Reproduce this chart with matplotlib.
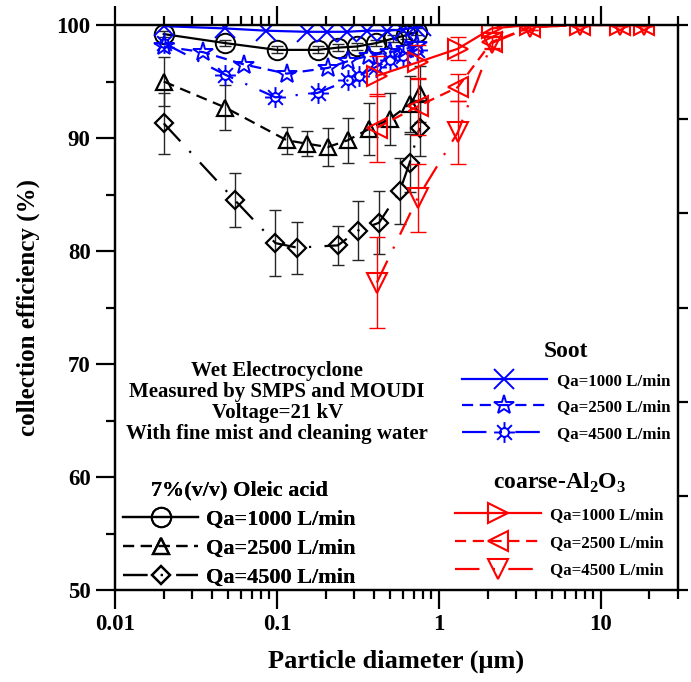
import numpy as np
import matplotlib
matplotlib.use("Agg")
import matplotlib.pyplot as plt
import matplotlib.path as mpath
from matplotlib.ticker import LogLocator, FixedLocator, NullFormatter, FuncFormatter

plt.rcParams['font.family'] = 'Liberation Serif'
plt.rcParams['font.weight'] = 'bold'
plt.rcParams['axes.labelweight'] = 'bold'
plt.rcParams['mathtext.fontset'] = 'custom'
plt.rcParams['mathtext.rm'] = 'Liberation Serif:bold'
plt.rcParams['mathtext.bf'] = 'Liberation Serif:bold'

# ---- data (particle diameter in um, efficiency in %) ----
# 7% (v/v) oleic acid
ole_x1 = [0.02, 0.048, 0.1, 0.179, 0.238, 0.312, 0.41, 0.52, 0.63, 0.73]
ole_y1 = [99.2, 98.4, 97.8, 97.8, 98.0, 98.1, 98.4, 98.8, 99.1, 99.4]
ole_e1 = [0.3, 0.3, 0.3, 0.3, 0.3, 0.3, 0.3, 0.3, 0.3, 0.3]

ole_x2 = [0.02, 0.048, 0.115, 0.153, 0.206, 0.274, 0.37, 0.50, 0.66, 0.76]
ole_y2 = [95.0, 92.7, 89.8, 89.5, 89.2, 89.8, 90.8, 91.7, 93.0, 93.9]
ole_e2 = [2.2, 2.0, 1.2, 1.1, 1.7, 2.0, 2.3, 2.3, 2.5, 2.5]

ole_x3 = [0.02, 0.055, 0.098, 0.133, 0.238, 0.315, 0.427, 0.574, 0.66, 0.76]
ole_y3 = [91.3, 84.5, 80.7, 80.3, 80.5, 81.8, 82.5, 85.3, 87.8, 90.9]
ole_e3 = [2.7, 2.4, 2.9, 2.3, 1.7, 2.6, 2.8, 2.9, 2.6, 2.5]

# soot
soot_x1 = [0.02, 0.048, 0.0855, 0.153, 0.203, 0.27, 0.36, 0.48, 0.60, 0.71, 0.78]
soot_y1 = [99.9, 99.7, 99.5, 99.4, 99.4, 99.4, 99.5, 99.5, 99.6, 99.8, 99.9]

soot_x2 = [0.02, 0.035, 0.063, 0.115, 0.206, 0.274, 0.37, 0.50, 0.63, 0.73]
soot_y2 = [98.1, 97.6, 96.5, 95.7, 96.2, 96.8, 97.3, 97.6, 97.9, 98.2]

soot_x3 = [0.02, 0.048, 0.098, 0.179, 0.274, 0.32, 0.41, 0.50, 0.60, 0.73]
soot_y3 = [98.4, 95.6, 93.6, 94.0, 95.1, 95.5, 96.3, 96.9, 97.3, 97.8]

# coarse Al2O3
al_x = [0.414, 0.74, 1.31, 2.12, 3.65, 7.4, 13.1, 18.6]
al_y1 = [95.5, 96.7, 97.9, 99.7, 100, 100, 100, 100]
al_e1 = [1.8, 1.5, 1.0, 0.3, 0.1, 0.1, 0.1, 0.1]
al_y2 = [90.9, 92.8, 94.5, 98.5, 99.8, 100, 100, 100]
al_e2 = [3.0, 2.5, 1.2, 0.5, 0.2, 0.1, 0.1, 0.1]
al_y3 = [77.2, 84.7, 90.5, 98.4, 99.8, 100, 100, 100]
al_e3 = [4.0, 3.0, 2.8, 0.5, 0.2, 0.1, 0.1, 0.1]

flow_labels = ["Qa=1000 L/min", "Qa=2500 L/min", "Qa=4500 L/min"]

# sun-like marker: small circle with eight rays
circ = mpath.Path.circle((0, 0), 0.42)
verts, codes = [], []
for a in np.deg2rad(np.arange(0, 360, 45)):
    verts += [(0.42 * np.cos(a), 0.42 * np.sin(a)), (np.cos(a), np.sin(a))]
    codes += [mpath.Path.MOVETO, mpath.Path.LINETO]
sun = mpath.Path.make_compound_path(circ, mpath.Path(verts, codes))

ls1 = '-'
ls2 = (0, (5, 3))
ls3 = (0, (11, 6, 1, 6))
lw = 1.6

fig = plt.figure(figsize=(6.91, 6.82), dpi=100)
ax = fig.add_axes([0.1664, 0.1349, 0.8148, 0.8284])

ekw = dict(fmt='none', ecolor='0.15', elinewidth=1.0, capsize=4.5, capthick=1.0)
ax.errorbar(ole_x1, ole_y1, yerr=ole_e1, **ekw)
ax.errorbar(ole_x2, ole_y2, yerr=ole_e2, **ekw)
ax.errorbar(ole_x3, ole_y3, yerr=ole_e3, **ekw)

o1, = ax.plot(ole_x1, ole_y1, color='k', ls=ls1, lw=lw, marker='o', ms=14,
              mfc='none', mew=1.4)
o2, = ax.plot(ole_x2, ole_y2, color='k', ls=ls2, lw=lw, marker='^', ms=11,
              mfc='none', mew=1.6)
o3, = ax.plot(ole_x3, ole_y3, color='k', ls=ls3, lw=lw, marker='D', ms=9,
              mfc='none', mew=1.6)

s1, = ax.plot(soot_x1, soot_y1, color='#0000ff', ls=ls1, lw=lw, marker='x', ms=15,
              mew=1.4)
s2, = ax.plot(soot_x2, soot_y2, color='#0000ff', ls=ls2, lw=lw, marker='*', ms=15,
              mfc='none', mew=1.4)
s3, = ax.plot(soot_x3, soot_y3, color='#0000ff', ls=ls3, lw=lw, marker=sun, ms=15,
              mfc='none', mew=1.4)

rkw = dict(fmt='none', ecolor='#ff0000', elinewidth=1.0, capsize=6, capthick=1.0)
ax.errorbar(al_x, al_y1, yerr=al_e1, **rkw)
ax.errorbar(al_x, al_y2, yerr=al_e2, **rkw)
ax.errorbar(al_x, al_y3, yerr=al_e3, **rkw)
a1, = ax.plot(al_x, al_y1, color='#ff0000', ls=ls1, lw=lw, marker='>', ms=14,
              mfc='none', mew=1.5)
a2, = ax.plot(al_x, al_y2, color='#ff0000', ls=ls2, lw=lw, marker='<', ms=14,
              mfc='none', mew=1.5)
a3, = ax.plot(al_x, al_y3, color='#ff0000', ls=ls3, lw=lw, marker='v', ms=14,
              mfc='none', mew=1.5)

ax.set_xscale('log')
ax.set_xlim(0.01, 30)
ax.set_ylim(50, 100)
ax.xaxis.set_major_locator(FixedLocator([0.01, 0.1, 1, 10]))
ax.xaxis.set_minor_locator(LogLocator(base=10, subs=np.arange(2, 10)))
ax.xaxis.set_minor_formatter(NullFormatter())
ax.xaxis.set_major_formatter(FuncFormatter(lambda v, p: '%g' % v))
ax.set_yticks([50, 60, 70, 80, 90, 100])
ax.set_yticks([55, 65, 75, 85, 95], minor=True)

for sp in ax.spines.values():
    sp.set_linewidth(1.6)
ax.tick_params(which='both', direction='out', width=1.6, top=True, labelsize=16.5)
ax.tick_params(which='major', length=13.5, pad=4)
ax.tick_params(which='minor', length=6.5)

ax2 = ax.twinx()
ax2.set_ylim(0, 6)
ax2.set_yticks(range(7))
ax2.set_yticklabels([])
ax2.tick_params(direction='out', length=7, width=1.6)
for sp in ax2.spines.values():
    sp.set_linewidth(1.6)

ax.set_xlabel('Particle diameter (\u03bcm)', fontsize=19, labelpad=10)
ax.set_ylabel('collection efficiency (%)', fontsize=18, labelpad=12)

ax.text(0.288, 0.332, "Wet Electrocyclone\nMeasured by SMPS and MOUDI\nVoltage=21 kV\n"
        "With fine mist and cleaning water", transform=ax.transAxes,
        ha='center', va='center', fontsize=15, linespacing=1.08)

leg1 = ax.legend([o1, o2, o3], flow_labels, title='7%(v/v) Oleic acid',
                 loc='upper left', bbox_to_anchor=(0.014, 0.193), fontsize=16,
                 title_fontsize=16, frameon=False, handlelength=3.4,
                 handletextpad=0.36, labelspacing=0.38, borderpad=0,
                 borderaxespad=0, numpoints=1)
ax.add_artist(leg1)
leg2 = ax2.legend([s1, s2, s3], flow_labels, title='Soot',
                  loc='upper left', bbox_to_anchor=(0.616, 0.440), fontsize=12.2,
                  title_fontsize=17, frameon=False, handlelength=5.0,
                  handletextpad=0.6, labelspacing=0.62, borderpad=0,
                  borderaxespad=0, numpoints=1)
ax2.add_artist(leg2)
leg3 = ax2.legend([a1, a2, a3], flow_labels, title='coarse-Al$_\\mathbf{2}$O$_\\mathbf{3}$',
                  loc='upper left', bbox_to_anchor=(0.604, 0.211), fontsize=12.2,
                  title_fontsize=17, frameon=False, handlelength=5.1,
                  handletextpad=0.5, labelspacing=0.7, borderpad=0,
                  borderaxespad=0, numpoints=1)

fig.savefig('out.png', dpi=100)
